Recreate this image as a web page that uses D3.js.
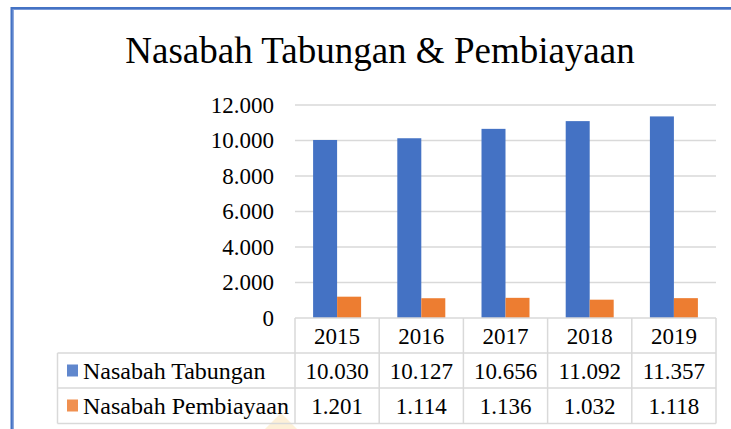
<!DOCTYPE html>
<html>
<head>
<meta charset="utf-8">
<script src="https://cdn.jsdelivr.net/npm/d3@7"></script>
<style>
  body { margin: 0; background: #fff; }
  svg { display: block; font-family: "Liberation Serif", "Times New Roman", serif; }
</style>
</head>
<body>
<svg id="drawing_region"></svg>
<script>
// data
const years = ["2015", "2016", "2017", "2018", "2019"];
const tabungan = [10030, 10127, 10656, 11092, 11357];
const pembiayaan = [1201, 1114, 1136, 1032, 1118];
const seriesNames = ["Nasabah Tabungan", "Nasabah Pembiayaan"];
const yTicks = [0, 2000, 4000, 6000, 8000, 10000, 12000];

const colors = ["#4472c4", "#ed7d31"];

const W = 731, H = 429;
const plot = {left: 295, right: 716, top: 105, bottom: 318};
const rowH = 35;

const idLocale = d3.formatLocale({decimal: ",", thousands: ".", grouping: [3], currency: ["", ""]});
const fmt = idLocale.format(",d");

const svg = d3.select('#drawing_region')
    .attr('width', W)
    .attr('height', H);

// faint watermark tip at the bottom (behind everything)
svg.append('polygon')
    .attr('points', '265,429 281,413 297,429')
    .attr('fill', '#fdf0d8');

// chart frame (only top and left edge visible)
svg.append('rect')
    .attr('x', 12).attr('y', 8.5)
    .attr('width', 760).attr('height', 460)
    .attr('fill', 'none')
    .attr('stroke', '#4472c4')
    .attr('stroke-width', 3);
svg.append('rect')
    .attr('x', 13).attr('y', 9.5)
    .attr('width', 760).attr('height', 460)
    .attr('fill', 'none')
    .attr('stroke', '#7a9ad8')
    .attr('stroke-width', 1);

// title
svg.append('text')
    .attr('x', 380).attr('y', 63)
    .attr('text-anchor', 'middle')
    .attr('font-size', 37)
    .attr('fill', '#000')
    .text('Nasabah Tabungan & Pembiayaan');

const xscale = d3.scaleBand()
    .domain(years)
    .range([plot.left, plot.right])
    .paddingInner(0.43)
    .paddingOuter(0.215);

const sub = d3.scaleBand()
    .domain([0, 1])
    .range([0, xscale.bandwidth()]);

const yscale = d3.scaleLinear()
    .domain([0, 12000])
    .range([plot.bottom, plot.top]);

// gridlines
svg.append('g')
    .selectAll('line')
    .data(yTicks.slice(1))
    .join('line')
    .attr('x1', plot.left).attr('x2', plot.right)
    .attr('y1', d => yscale(d)).attr('y2', d => yscale(d))
    .attr('stroke', '#d9d9d9')
    .attr('stroke-width', 1.5);

// y axis labels
const yaxis = d3.axisLeft(yscale)
    .tickValues(yTicks)
    .tickFormat(fmt)
    .tickSize(0)
    .tickPadding(0);
const yg = svg.append('g')
    .attr('transform', 'translate(274,0)')
    .call(yaxis);
yg.select('.domain').remove();
yg.selectAll('text')
    .attr('font-family', '"Liberation Serif", "Times New Roman", serif')
    .attr('font-size', 23)
    .attr('fill', '#000');

// bars
const allSeries = [tabungan, pembiayaan];
allSeries.forEach((vals, s) => {
    svg.append('g')
        .selectAll('rect')
        .data(vals)
        .join('rect')
        .attr('x', (d, i) => xscale(years[i]) + sub(s))
        .attr('y', d => yscale(d))
        .attr('width', sub.bandwidth())
        .attr('height', d => yscale(0) - yscale(d))
        .attr('fill', colors[s]);
});

// data table
const table = svg.append('g');
const gridCol = '#d9d9d9';
const step = xscale.step();
const colEdges = years.map((y, i) => plot.left + i * step).concat([plot.right]);
const tTop = plot.bottom, tBot = plot.bottom + 3 * rowH + 0.5;
const tableLeft = 57.5;

// horizontal lines
[[plot.left, tTop], [tableLeft, tTop + rowH], [tableLeft, tTop + 2 * rowH], [tableLeft, tBot]].forEach(([x0, y]) => {
    table.append('line')
        .attr('x1', x0).attr('x2', plot.right)
        .attr('y1', y).attr('y2', y)
        .attr('stroke', gridCol).attr('stroke-width', 1.5);
});
// vertical lines
colEdges.forEach(x => {
    table.append('line')
        .attr('x1', x).attr('x2', x)
        .attr('y1', tTop).attr('y2', tBot)
        .attr('stroke', gridCol).attr('stroke-width', 1.5);
});
table.append('line')
    .attr('x1', tableLeft).attr('x2', tableLeft)
    .attr('y1', tTop + rowH).attr('y2', tBot)
    .attr('stroke', gridCol).attr('stroke-width', 1.5);

// header years
table.selectAll('text.year')
    .data(years)
    .join('text')
    .attr('class', 'year')
    .attr('x', d => xscale(d) + xscale.bandwidth() / 2)
    .attr('y', tTop + rowH / 2 + 8)
    .attr('text-anchor', 'middle')
    .attr('font-size', 23)
    .text(d => d);

// series rows
allSeries.forEach((vals, s) => {
    const cy = tTop + rowH * (s + 1) + rowH / 2;
    table.append('rect')
        .attr('x', 67).attr('y', cy - 6)
        .attr('width', 11).attr('height', 12)
        .attr('fill', colors[s])
        .attr('opacity', 0.85);
    table.append('text')
        .attr('x', 83).attr('y', cy + 8)
        .attr('font-size', 24)
        .text(seriesNames[s]);
    table.append('g')
        .selectAll('text')
        .data(vals)
        .join('text')
        .attr('x', (d, i) => xscale(years[i]) + xscale.bandwidth() / 2)
        .attr('y', cy + 8)
        .attr('text-anchor', 'middle')
        .attr('font-size', 23)
        .text(d => fmt(d));
});
</script>
</body>
</html>
